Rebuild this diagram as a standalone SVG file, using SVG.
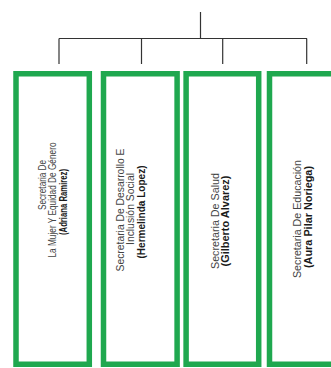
<svg xmlns="http://www.w3.org/2000/svg" width="331" height="368" viewBox="0 0 331 368">
<style>
.box{fill:#fff;stroke:#1fa84f;stroke-width:5.5}
.ln{stroke:#333;stroke-width:1.2;fill:none}
text{font-family:"Liberation Sans",Arial,sans-serif;font-size:10.5px;fill:#444;text-anchor:middle}
.b{font-weight:bold;fill:#1a1a1a}
</style>
<rect width="331" height="368" fill="#fff"/>
<g id="connectors">
<line class="ln" x1="200.5" y1="12" x2="200.5" y2="38.5"/>
<line class="ln" x1="59" y1="38.5" x2="307" y2="38.5"/>
<line class="ln" x1="59" y1="38.5" x2="59" y2="64"/>
<line class="ln" x1="141.5" y1="38.5" x2="141.5" y2="64"/>
<line class="ln" x1="222.7" y1="38.5" x2="222.7" y2="64"/>
<line class="ln" x1="306.7" y1="38.5" x2="306.7" y2="64"/>
</g>
<g id="node1">
<rect class="box" x="16" y="73.75" width="73.3" height="290.5"/>
<text transform="translate(45.5 185) rotate(-90)" textLength="50" lengthAdjust="spacingAndGlyphs">Secretaria De</text>
<text transform="translate(56 200) rotate(-90)" textLength="115" lengthAdjust="spacingAndGlyphs">La Mujer Y Equidad De Género</text>
<text class="b" transform="translate(66.5 202) rotate(-90)" textLength="66" lengthAdjust="spacingAndGlyphs">(Adriana Ramirez)</text>
</g>
<g id="node2">
<rect class="box" x="103.5" y="73.75" width="73.6" height="290.5"/>
<text transform="translate(123.5 210) rotate(-90)" textLength="123" lengthAdjust="spacingAndGlyphs">Secretaria De Desarrollo E</text>
<text transform="translate(134 209) rotate(-90)" textLength="72" lengthAdjust="spacingAndGlyphs">Inclusión Social</text>
<text class="b" transform="translate(144.5 212) rotate(-90)" textLength="93" lengthAdjust="spacingAndGlyphs">(Hermelinda Lopez)</text>
</g>
<g id="node3">
<rect class="box" x="186.1" y="73.75" width="72.6" height="290.5"/>
<text transform="translate(218.5 221) rotate(-90)" textLength="96" lengthAdjust="spacingAndGlyphs">Secretaria De Salud</text>
<text class="b" transform="translate(229 221) rotate(-90)" textLength="91" lengthAdjust="spacingAndGlyphs">(Gilberto Alvarez)</text>
</g>
<g id="node4">
<rect class="box" x="269.5" y="73.75" width="74" height="290.5"/>
<text transform="translate(301 219) rotate(-90)" textLength="118" lengthAdjust="spacingAndGlyphs">Secretaria De Educación</text>
<text class="b" transform="translate(312 217) rotate(-90)" textLength="102" lengthAdjust="spacingAndGlyphs">(Aura Pilar Noriega)</text>
</g>
</svg>
